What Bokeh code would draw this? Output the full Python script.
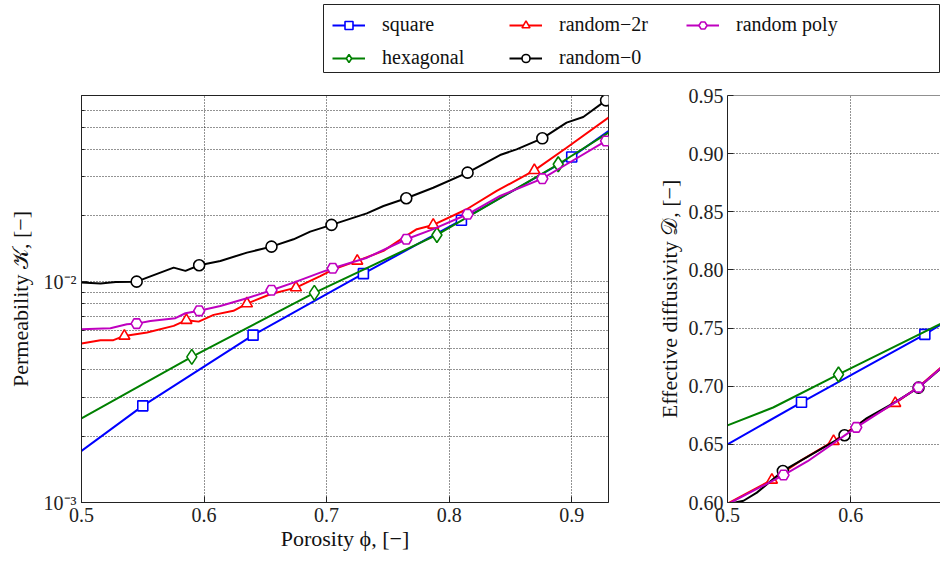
from bokeh.plotting import figure
from bokeh.layouts import column, row
from bokeh.models import (FixedTicker, Label, Span, Legend, LegendItem, CustomJSTickFormatter)
from bokeh.embed import file_html
from bokeh.resources import INLINE

FONT = "Liberation Serif"
FS = "20px"
FS_LABEL = "22px"

# ---------------- data: permeability (left) ----------------
sq_phi_K = [0.50, 0.55, 0.64, 0.73, 0.81, 0.90, 0.93]
sq_K = [1.714e-3, 2.742e-3, 5.736e-3, 1.090e-2, 1.904e-2, 3.684e-2, 4.831e-2]
sq_K_marks = [1, 2, 3, 4, 5]

hex_phi_K = [0.50, 0.59, 0.69, 0.79, 0.889, 0.93]
hex_K = [2.404e-3, 4.573e-3, 8.916e-3, 1.633e-2, 3.415e-2, 4.747e-2]
hex_K_marks = [1, 2, 3, 4]

r2r_phi_K = [0.500, 0.5155, 0.526, 0.535, 0.5535, 0.5752, 0.5856, 0.5956, 0.6078, 0.624,
             0.635, 0.654, 0.675, 0.6948, 0.7056, 0.725, 0.7464, 0.7627, 0.7736, 0.787,
             0.8143, 0.8388, 0.8695, 0.8958, 0.93]
r2r_K = [5.253e-3, 5.442e-3, 5.445e-3, 5.692e-3, 5.892e-3, 6.318e-3, 6.707e-3, 6.607e-3, 7.088e-3, 7.396e-3,
         7.973e-3, 8.795e-3, 9.423e-3, 1.063e-2, 1.141e-2, 1.245e-2, 1.382e-2, 1.587e-2, 1.734e-2, 1.813e-2,
         2.135e-2, 2.584e-2, 3.206e-2, 4.059e-2, 5.560e-2]
r2r_K_marks = [3, 6, 10, 12, 15, 19, 22]

r0_phi_K = [0.500, 0.5155, 0.528, 0.545, 0.5535, 0.5752, 0.5848, 0.596, 0.6133, 0.635,
            0.655, 0.673, 0.6866, 0.704, 0.7328, 0.7464, 0.765, 0.787, 0.815, 0.8415,
            0.855, 0.876, 0.8958, 0.9094, 0.928]
r0_K = [9.93e-3, 9.83e-3, 1.000e-2, 1.003e-2, 1.046e-2, 1.161e-2, 1.122e-2, 1.190e-2, 1.245e-2, 1.358e-2,
        1.445e-2, 1.560e-2, 1.690e-2, 1.813e-2, 2.046e-2, 2.208e-2, 2.394e-2, 2.673e-2, 3.128e-2, 3.761e-2,
        3.990e-2, 4.477e-2, 5.272e-2, 5.592e-2, 6.653e-2]
r0_K_marks = [3, 7, 10, 13, 16, 18, 21, 24]

rp_phi_K = [0.500, 0.5236, 0.537, 0.545, 0.5562, 0.5766, 0.5848, 0.596, 0.6133, 0.635,
            0.655, 0.673, 0.6948, 0.705, 0.733, 0.765, 0.787, 0.815, 0.8415, 0.876,
            0.8958, 0.928]
rp_K = [6.106e-3, 6.166e-3, 6.431e-3, 6.471e-3, 6.653e-3, 6.846e-3, 7.211e-3, 7.396e-3, 7.783e-3, 8.433e-3,
        9.170e-3, 9.931e-3, 1.102e-2, 1.153e-2, 1.288e-2, 1.561e-2, 1.734e-2, 2.026e-2, 2.453e-2, 2.938e-2,
        3.415e-2, 4.355e-2]
rp_K_marks = [3, 7, 10, 13, 15, 17, 19, 21]

# ---------------- data: effective diffusivity (right) ----------------
sq_phi_D = [0.50, 0.56, 0.66, 0.673]
sq_D = [0.650, 0.6862, 0.7446, 0.7530]
sq_D_marks = [1, 2]

hex_phi_D = [0.50, 0.537, 0.59, 0.673]
hex_D = [0.6663, 0.6817, 0.7101, 0.7537]
hex_D_marks = [2]

r2r_phi_D = [0.50, 0.536, 0.56, 0.586, 0.61, 0.636, 0.655, 0.673]
r2r_D = [0.5990, 0.6194, 0.6365, 0.6527, 0.6700, 0.6854, 0.6995, 0.7160]
r2r_D_marks = [1, 3, 5]

r0_phi_D = [0.50, 0.513, 0.5238, 0.5449, 0.5644, 0.5949, 0.613, 0.6346, 0.6549, 0.673]
r0_D = [0.5986, 0.6015, 0.6085, 0.6271, 0.6390, 0.6578, 0.6726, 0.6854, 0.6988, 0.7152]
r0_D_marks = [3, 5, 8]

rp_phi_D = [0.50, 0.5454, 0.565, 0.6044, 0.63, 0.6549, 0.673]
rp_D = [0.5985, 0.6236, 0.6355, 0.6646, 0.6820, 0.6990, 0.7155]
rp_D_marks = [1, 3, 5]

# ---------------- ticks ----------------
x_ticks = [0.5, 0.6, 0.7, 0.8, 0.9]
x_tick_labels = ["0.5", "0.6", "0.7", "0.8", "0.9"]
K_ticks = [1e-3, 1e-2]
K_tick_labels = ["10\u207b\u00b3", "10\u207b\u00b2"]
K_minor_ticks = [2e-3, 3e-3, 4e-3, 5e-3, 6e-3, 7e-3, 8e-3, 9e-3,
                 2e-2, 3e-2, 4e-2, 5e-2, 6e-2, 7e-2]
D_ticks = [0.60, 0.65, 0.70, 0.75, 0.80, 0.85, 0.90, 0.95]
D_tick_labels = ["0.60", "0.65", "0.70", "0.75", "0.80", "0.85", "0.90", "0.95"]

labels = ["square", "hexagonal", "random\u22122r", "random\u22120", "random poly"]
styles = [
    dict(color="#0000ff", marker="square", size=10),
    dict(color="#008000", marker="diamond", size=15),
    dict(color="#ff0000", marker="triangle", size=11),
    dict(color="#000000", marker="circle", size=11),
    dict(color="#bf00bf", marker="hex", size=11),
]
K_series = [(sq_phi_K, sq_K, sq_K_marks), (hex_phi_K, hex_K, hex_K_marks),
            (r2r_phi_K, r2r_K, r2r_K_marks), (r0_phi_K, r0_K, r0_K_marks),
            (rp_phi_K, rp_K, rp_K_marks)]
D_series = [(sq_phi_D, sq_D, sq_D_marks), (hex_phi_D, hex_D, hex_D_marks),
            (r2r_phi_D, r2r_D, r2r_D_marks), (r0_phi_D, r0_D, r0_D_marks),
            (rp_phi_D, rp_D, rp_D_marks)]


def fmt(tv, tl):
    return CustomJSTickFormatter(args=dict(tv=tv, tl=tl), code="""
        const i = tv.findIndex(t => Math.abs(t - tick) <= 1e-6 * Math.abs(t) + 1e-12);
        return i >= 0 ? tl[i] : '';""")


def style_axis(ax, label=None):
    ax.major_label_text_font = FONT
    ax.major_label_text_font_size = FS
    ax.major_label_text_color = "#222222"
    ax.axis_label_text_font = FONT
    ax.axis_label_text_font_size = FS_LABEL
    ax.axis_label_text_font_style = "normal"
    ax.axis_label_text_color = "#111111"
    ax.major_tick_in = 6
    ax.major_tick_out = 0
    ax.minor_tick_in = 3
    ax.minor_tick_out = 0
    ax.axis_line_color = "#222222"
    ax.major_tick_line_color = "#222222"
    ax.minor_tick_line_color = "#222222"
    if label is not None:
        ax.axis_label = label


def add_series(p, phi, vals, marks, st):
    rl = p.line(phi, vals, line_color=st["color"], line_width=2)
    rm = p.scatter([phi[i] for i in marks], [vals[i] for i in marks], marker=st["marker"],
                   size=st["size"], line_color=st["color"], fill_color="white", line_width=1.6)
    return rl, rm


def style_grid(p):
    for g in (p.xgrid, p.ygrid):
        g.grid_line_color = "black"
        g.grid_line_dash = "1 2"
        g.grid_line_alpha = 0.85
        g.grid_line_width = 1


# ---------------- legend figure (its renderers sit outside its own frame) ----------------
lg = figure(width=940, height=76, x_range=(2, 3), y_range=(2, 3),
            toolbar_location=None, output_backend="svg",
            x_axis_location=None, y_axis_location=None,
            min_border_left=323, min_border_right=0, min_border_top=4, min_border_bottom=4)
lg.grid.visible = False
lg.outline_line_color = "#222222"
lg.outline_line_width = 1
items = []
for lab, st, (phi, vals, marks) in zip(labels, styles, K_series):
    rl, rm = add_series(lg, phi, vals, marks, st)
    items.append(LegendItem(label=lab, renderers=[rl, rm]))
legend = Legend(items=items, location="top_left", orientation="vertical", nrows=2,
                margin=0, padding=9, spacing=10, glyph_width=33, glyph_height=20,
                label_standoff=17, label_width=117, label_height=20,
                label_text_font=FONT, label_text_font_size=FS, label_text_color="#111111",
                border_line_color="black", border_line_alpha=0, background_fill_alpha=0)
lg.add_layout(legend, "center")

# ---------------- left: permeability ----------------
left = figure(width=620, height=485, x_range=(0.5, 0.93), y_range=(1e-3, 0.07),
              y_axis_type="log", toolbar_location=None, output_backend="svg",
              min_border_left=81, min_border_right=12, min_border_top=19, min_border_bottom=59)
left.outline_line_color = "#222222"
left.xaxis.ticker = FixedTicker(ticks=x_ticks)
left.xaxis.formatter = fmt(x_ticks, x_tick_labels)
left.yaxis.ticker = FixedTicker(ticks=K_ticks, minor_ticks=K_minor_ticks)
left.yaxis.formatter = fmt(K_ticks, K_tick_labels)
style_axis(left.xaxis[0], "Porosity \u03d5, [\u2212]")
style_axis(left.yaxis[0], "Permeability \U0001D4A6, [\u2212]")
left.xaxis.major_label_standoff = 5
left.xaxis.axis_label_standoff = 1
left.yaxis.major_label_standoff = 5
left.yaxis.axis_label_standoff = 8
style_grid(left)
left.ygrid.minor_grid_line_color = "black"
left.ygrid.minor_grid_line_dash = "1 2"
left.ygrid.minor_grid_line_alpha = 0.85
for (phi, vals, marks), st in zip(K_series, styles):
    add_series(left, phi, vals, marks, st)

# ---------------- right: effective diffusivity ----------------
right = figure(width=320, height=485, x_range=(0.5, 0.6727), y_range=(0.60, 0.95),
               toolbar_location=None, output_backend="svg",
               min_border_left=107, min_border_right=0, min_border_top=16, min_border_bottom=59)
right.outline_line_color = None
right.xaxis.ticker = FixedTicker(ticks=x_ticks)
right.xaxis.formatter = fmt(x_ticks, x_tick_labels)
right.yaxis.ticker = FixedTicker(ticks=D_ticks)
right.yaxis.formatter = fmt(D_ticks, D_tick_labels)
style_axis(right.xaxis[0])
style_axis(right.yaxis[0], "Effective diffusivity \U0001D49F, [\u2212]")
right.xaxis.major_label_standoff = 5
right.yaxis.major_label_standoff = 4
right.yaxis.axis_label_standoff = 4
style_grid(right)
right.add_layout(Span(location=0.95, dimension="width", line_color="#222222", line_width=1))
for (phi, vals, marks), st in zip(D_series, styles):
    add_series(right, phi, vals, marks, st)
right.add_layout(Label(x=0.658, y=0.5755, text="Porosity \u03d5, [\u2212]",
                       text_font=FONT, text_font_size=FS_LABEL, text_color="#111111",
                       text_baseline="top", text_align="left"))

layout = column(lg, row(left, right))
open("out.html", "w").write(file_html(layout, INLINE))
